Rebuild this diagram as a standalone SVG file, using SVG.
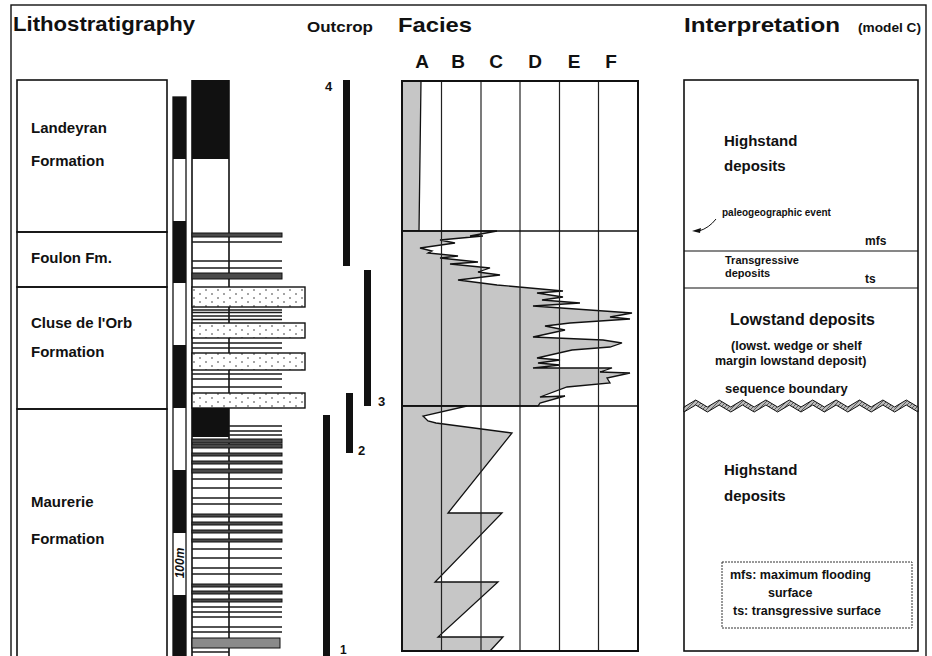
<svg xmlns="http://www.w3.org/2000/svg" width="932" height="656" viewBox="0 0 932 656">
<style>
text{font-family:"Liberation Sans",Arial,Helvetica,sans-serif;font-weight:bold;fill:#111}
.h1{font-size:21px}
.fm{font-size:15px}
.ln{stroke:#111;stroke-width:1.6;fill:none}
.thin{stroke:#1a1a1a;stroke-width:1.3}
.dk{fill:#4a4a4a;stroke:#111;stroke-width:1}
.ss{fill:url(#dots);stroke:#111;stroke-width:1.4}
.fac{fill:#c6c6c6;stroke:#111;stroke-width:1.3;stroke-linejoin:miter}
.grid{stroke:#222;stroke-width:1.2}
.bar{fill:#111}
</style>
<defs>
<pattern id="dots" width="12" height="8" patternUnits="userSpaceOnUse">
<rect width="12" height="8" fill="#fff"/>
<circle cx="2" cy="2" r="0.8" fill="#333"/>
<circle cx="8" cy="6" r="0.8" fill="#333"/>
</pattern>
<pattern id="hatch" width="4" height="4" patternUnits="userSpaceOnUse">
<rect width="4" height="4" fill="#bbb"/>
<path d="M0,4 L4,0" stroke="#444" stroke-width="0.8"/>
</pattern>
</defs>
<rect width="932" height="656" fill="#fff"/>
<rect x="11" y="5" width="915" height="660" fill="none" stroke="#111" stroke-width="1.4"/>

<g id="headers">
<text class="h1" x="13" y="31" textLength="182" lengthAdjust="spacingAndGlyphs">Lithostratigraphy</text>
<text x="307" y="32" font-size="15" textLength="66" lengthAdjust="spacingAndGlyphs">Outcrop</text>
<text class="h1" x="398" y="32" textLength="74" lengthAdjust="spacingAndGlyphs">Facies</text>
<text class="h1" x="684" y="32" textLength="156" lengthAdjust="spacingAndGlyphs">Interpretation</text>
<text x="858" y="32" font-size="13" textLength="63" lengthAdjust="spacingAndGlyphs">(model C)</text>
<g font-size="19" text-anchor="middle">
<text x="422" y="68">A</text><text x="458" y="68">B</text><text x="496" y="68">C</text>
<text x="535" y="68">D</text><text x="574" y="68">E</text><text x="611" y="68">F</text>
</g>
</g>

<g id="formations">
<g id="landeyran"><rect x="17" y="80" width="150" height="152" class="ln"/>
<text class="fm" x="31" y="133">Landeyran</text><text class="fm" x="31" y="166">Formation</text></g>
<g id="foulon"><rect x="17" y="232" width="150" height="55" class="ln"/>
<text class="fm" x="31" y="263">Foulon Fm.</text></g>
<g id="cluse"><rect x="17" y="287" width="150" height="122" class="ln"/>
<text class="fm" x="31" y="328">Cluse de l'Orb</text><text class="fm" x="31" y="357">Formation</text></g>
<g id="maurerie"><rect x="17" y="409" width="150" height="260" class="ln"/>
<text class="fm" x="31" y="507">Maurerie</text><text class="fm" x="31" y="544">Formation</text></g>
</g>

<g id="scale">
<rect x="173" y="97" width="13" height="570" fill="#fff" stroke="#111" stroke-width="1.3"/>
<rect x="173" y="97" width="13" height="62" fill="#111"/>
<rect x="173" y="221" width="13" height="62" fill="#111"/>
<rect x="173" y="345" width="13" height="63" fill="#111"/>
<rect x="173" y="470" width="13" height="63" fill="#111"/>
<rect x="173" y="595" width="13" height="70" fill="#111"/>
<text x="0" y="0" font-size="12" font-style="italic" font-weight="normal" text-anchor="middle" transform="translate(183.5,563) rotate(-90)">100m</text>
</g>

<g id="lithology">
<rect x="192" y="80" width="37" height="79" fill="#111"/>
<line x1="192" y1="80" x2="192" y2="660" class="ln"/>
<line x1="229" y1="80" x2="229" y2="660" class="ln"/>
<g class="thin">
<line x1="192" y1="242" x2="282" y2="242"/><line x1="192" y1="261" x2="282" y2="261"/><line x1="192" y1="268" x2="282" y2="268"/>
<line x1="192" y1="310" x2="282" y2="310"/><line x1="192" y1="312.5" x2="282" y2="312.5"/><line x1="192" y1="316" x2="282" y2="316"/><line x1="192" y1="319.5" x2="282" y2="319.5"/>
<line x1="192" y1="343" x2="282" y2="343"/><line x1="192" y1="348" x2="282" y2="348"/>
<line x1="192" y1="374" x2="282" y2="374"/><line x1="192" y1="379" x2="282" y2="379"/><line x1="192" y1="387" x2="282" y2="387"/>
<line x1="229" y1="426" x2="282" y2="426"/><line x1="229" y1="431" x2="282" y2="431"/><line x1="229" y1="435" x2="282" y2="435"/>
<line x1="192" y1="479" x2="282" y2="479"/><line x1="192" y1="488" x2="282" y2="488"/><line x1="192" y1="498" x2="282" y2="498"/><line x1="192" y1="504" x2="282" y2="504"/>
<line x1="192" y1="549" x2="282" y2="549"/><line x1="192" y1="558" x2="282" y2="558"/><line x1="192" y1="568" x2="282" y2="568"/><line x1="192" y1="574" x2="282" y2="574"/>
<line x1="192" y1="607" x2="282" y2="607"/><line x1="192" y1="612" x2="282" y2="612"/><line x1="192" y1="617" x2="282" y2="617"/><line x1="192" y1="627" x2="282" y2="627"/><line x1="192" y1="632" x2="282" y2="632"/>
<line x1="192" y1="652" x2="229" y2="652"/>
</g>
<rect x="192" y="233" width="90" height="4" class="dk"/>
<rect x="192" y="273" width="90" height="6" class="dk"/>
<rect x="192" y="408" width="37" height="29" fill="#111"/>
<rect x="192" y="439" width="90" height="4" class="dk"/>
<rect x="192" y="444" width="90" height="4" class="dk"/>
<rect x="192" y="453" width="90" height="3" class="dk"/>
<rect x="192" y="461" width="90" height="3" class="dk"/>
<rect x="192" y="469" width="90" height="4" class="dk"/>
<rect x="192" y="514" width="90" height="3" class="dk"/>
<rect x="192" y="522" width="90" height="3" class="dk"/>
<rect x="192" y="530" width="90" height="3" class="dk"/>
<rect x="192" y="539" width="90" height="3" class="dk"/>
<rect x="192" y="584" width="90" height="3" class="dk"/>
<rect x="192" y="591" width="90" height="3" class="dk"/>
<rect x="192" y="599" width="90" height="3" class="dk"/>
<rect x="192" y="638" width="88" height="10" fill="#8a8a8a" stroke="#111" stroke-width="1"/>
<rect x="192" y="287" width="113" height="20" class="ss"/>
<rect x="192" y="323" width="113" height="15" class="ss"/>
<rect x="192" y="353" width="113" height="17" class="ss"/>
<rect x="192" y="393" width="113" height="15" class="ss"/>
</g>

<g id="outcrops">
<rect x="343" y="80" width="7" height="186" class="bar"/><text x="325" y="91" font-size="13">4</text>
<rect x="364" y="270" width="7" height="136" class="bar"/><text x="378" y="406" font-size="13">3</text>
<rect x="346" y="393" width="7" height="60" class="bar"/><text x="358" y="455" font-size="13">2</text>
<rect x="323" y="415" width="7" height="245" class="bar"/><text x="340" y="654" font-size="12">1</text>
</g>

<g id="facies">
<rect x="402" y="81" width="236" height="570" fill="#fff"/>
<polygon class="fac" points="402,81 421,81 419,231 402,231"/>
<polygon class="fac" points="402,231 497,231 470,236 483,236 440,240 455,243 420,248 432,251 428,253 458,256 440,258 478,262 450,264 490,268 478,272 500,275 458,280 497,285 563,291 537,293 563,297 542,300 580,303 533,306 632,313 610,317 630,319 570,323 545,326 565,330 533,337 603,340 622,343 610,347 572,350 537,358 560,360 538,363 560,365 533,368 612,368 600,372 630,373 607,378 610,383 567,387 540,397 565,396 540,403 538,406 402,406"/>
<polygon class="fac" points="402,406 467,406 423,416 428,421 436,423 512,433 448,513 502,513 435,582 498,582 438,637 503,637 490,651 402,651"/>
<g class="grid">
<line x1="441.5" y1="81" x2="441.5" y2="651"/><line x1="481" y1="81" x2="481" y2="651"/>
<line x1="520" y1="81" x2="520" y2="651"/><line x1="559.5" y1="81" x2="559.5" y2="651"/>
<line x1="598.5" y1="81" x2="598.5" y2="651"/>
</g>
<line x1="402" y1="231" x2="638" y2="231" stroke="#111" stroke-width="1.6"/>
<line x1="402" y1="406" x2="638" y2="406" stroke="#111" stroke-width="1.6"/>
<rect x="402" y="81" width="236" height="570" fill="none" stroke="#111" stroke-width="2"/>
</g>

<g id="interpretation">
<rect x="684" y="80" width="234" height="571" fill="none" stroke="#111" stroke-width="1.6"/>
<line x1="684" y1="251" x2="918" y2="251" stroke="#111" stroke-width="1.2"/>
<line x1="684" y1="288" x2="918" y2="288" stroke="#111" stroke-width="1.2"/>
<g id="highstand-upper"><text class="fm" x="724" y="146">Highstand</text><text class="fm" x="724" y="171">deposits</text></g>
<g id="paleo-event"><text x="722" y="216" font-size="10">paleogeographic event</text></g>
<text x="865" y="245" font-size="12">mfs</text>
<g id="transgressive"><text x="725" y="264" font-size="11">Transgressive</text><text x="725" y="277" font-size="11">deposits</text></g>
<text x="865" y="283" font-size="12">ts</text>
<g id="lowstand">
<text x="730" y="325" font-size="16">Lowstand deposits</text>
<text x="731" y="350" font-size="12.5">(lowst. wedge or shelf</text>
<text x="715" y="365" font-size="12.5">margin lowstand deposit)</text>
</g>
<g id="sequence-boundary">
<text x="725" y="393" font-size="13">sequence boundary</text>
<polygon fill="url(#hatch)" stroke="#111" stroke-width="1" points="684,407 695.7,400 707.4,407 719.1,400 730.8,407 742.5,400 754.2,407 765.9,400 777.6,407 789.3,400 801,407 812.7,400 824.4,407 836.1,400 847.8,407 859.5,400 871.2,407 882.9,400 894.6,407 906.3,400 918,407 918,412 906.3,405 894.6,412 882.9,405 871.2,412 859.5,405 847.8,412 836.1,405 824.4,412 812.7,405 801,412 789.3,405 777.6,412 765.9,405 754.2,412 742.5,405 730.8,412 719.1,405 707.4,412 695.7,405 684,412"/>
</g>
<g id="highstand-lower"><text class="fm" x="724" y="475">Highstand</text><text class="fm" x="724" y="501">deposits</text></g>
<g id="legend">
<rect x="722" y="562" width="190" height="66" fill="#fff" stroke="#333" stroke-width="1" stroke-dasharray="2,1"/>
<text x="730" y="579" font-size="12.5">mfs: maximum flooding</text>
<text x="768" y="597" font-size="12.5">surface</text>
<text x="733" y="615" font-size="12.5">ts: transgressive surface</text>
</g>
</g>

<g id="connectors">
<path d="M716,219 Q709,228 699,231" fill="none" stroke="#111" stroke-width="1"/>
<polygon points="692,231 701,228 700,233" fill="#111"/>
</g>
</svg>
